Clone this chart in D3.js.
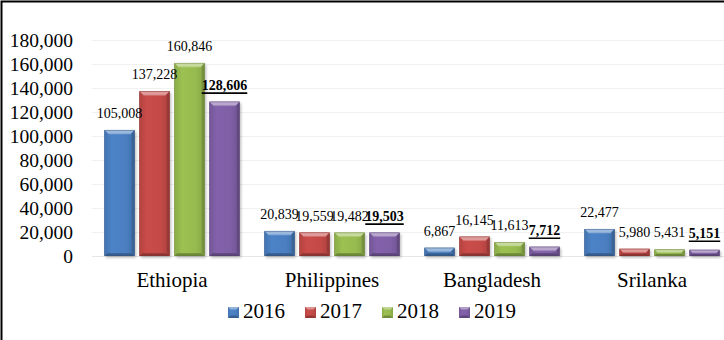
<!DOCTYPE html>
<html>
<head>
<meta charset="utf-8">
<script src="https://cdn.jsdelivr.net/npm/d3@7"></script>
<style>
  html, body { margin: 0; padding: 0; background: #fff; }
  svg { display: block; }
  text { font-family: "Liberation Serif", "Times New Roman", serif; fill: #000; }
</style>
</head>
<body>
<svg id="chart" width="724" height="340"></svg>
<script>
// Remittance counts by country and year
const countries = ["Ethiopia", "Philippines", "Bangladesh", "Srilanka"];
const years = ["2016", "2017", "2018", "2019"];
const values2016 = [105008, 20839, 6867, 22477];
const values2017 = [137228, 19559, 16145, 5980];
const values2018 = [160846, 19482, 11613, 5431];
const values2019 = [128606, 19503, 7712, 5151];
const yTicks = [0, 20000, 40000, 60000, 80000, 100000, 120000, 140000, 160000, 180000];
const seriesColors = ["#4a7fc1", "#c44a47", "#98bb4f", "#7f5fa6"];
const boldYear = "2019";

const seriesValues = [values2016, values2017, values2018, values2019];
const rows = [];
countries.forEach((c, ci) => {
  years.forEach((yr, si) => rows.push({ country: c, year: yr, series: si, value: seriesValues[si][ci] }));
});

const svg = d3.select("#chart");
const W = 724, H = 340;
const plot = { left: 92, right: 732, top: 40, bottom: 256 };

const x = d3.scaleBand().domain(countries).range([plot.left, plot.right]);
const xInner = d3.scaleBand().domain(years).range([12.5, x.bandwidth() - 12.5]).paddingInner(1 / 7);
const y = d3.scaleLinear().domain([0, 180000]).range([plot.bottom, plot.top]);
const fmt = d3.format(",");

// frame
svg.append("rect").attr("x", 1.5).attr("y", 1.5).attr("width", W + 10).attr("height", H + 10)
  .attr("fill", "none").attr("stroke", "#000").attr("stroke-width", 2);

// defs: gradients per series + shadow blur
const defs = svg.append("defs");
defs.append("filter").attr("id", "shadow").attr("x", "-20%").attr("y", "-20%").attr("width", "140%").attr("height", "140%")
  .append("feGaussianBlur").attr("stdDeviation", 1.4);
seriesColors.forEach((col, i) => {
  const g = defs.append("linearGradient").attr("id", "body" + i).attr("x1", 0).attr("x2", 1).attr("y1", 0).attr("y2", 0);
  const c = d3.color(col);
  g.append("stop").attr("offset", "0%").attr("stop-color", c.darker(0.25));
  g.append("stop").attr("offset", "25%").attr("stop-color", c.brighter(0.08));
  g.append("stop").attr("offset", "70%").attr("stop-color", c);
  g.append("stop").attr("offset", "100%").attr("stop-color", c.darker(0.35));
});

// gridlines
svg.append("g").selectAll("line").data(yTicks.slice(1)).join("line")
  .attr("x1", plot.left).attr("x2", plot.right)
  .attr("y1", d => Math.round(y(d)) + 0.5).attr("y2", d => Math.round(y(d)) + 0.5)
  .attr("stroke", "#f1f1f1").attr("stroke-width", 1);
svg.append("line").attr("x1", plot.left).attr("x2", plot.right)
  .attr("y1", plot.bottom + 0.5).attr("y2", plot.bottom + 0.5)
  .attr("stroke", "#e6e6e6");

// y axis labels
const yAxis = d3.axisLeft(y).tickValues(yTicks).tickFormat(fmt).tickSize(0).tickPadding(0);
const yG = svg.append("g").attr("transform", "translate(73,0)").call(yAxis);
yG.select(".domain").remove();
yG.selectAll("text").attr("font-size", "19.5px").attr("font-family", '"Liberation Serif", "Times New Roman", serif')
  .attr("fill", "#000");

// x axis labels
const xAxis = d3.axisBottom(x).tickSize(0).tickPadding(0);
const xG = svg.append("g").attr("transform", "translate(0,272)").call(xAxis);
xG.select(".domain").remove();
xG.selectAll("text").attr("font-size", "21px").attr("font-family", '"Liberation Serif", "Times New Roman", serif')
  .attr("fill", "#000").attr("dy", "0.71em");

// bars with a bevelled look
function drawBar(sel, bx, by, bw, bh, si) {
  const col = d3.color(seriesColors[si]);
  const b = Math.min(4, bh / 2);
  sel.append("rect").attr("x", bx + 1.5).attr("y", by + 1.5).attr("width", bw).attr("height", bh)
    .attr("fill", "#000").attr("opacity", 0.28).attr("filter", "url(#shadow)");
  sel.append("rect").attr("x", bx).attr("y", by).attr("width", bw).attr("height", bh)
    .attr("fill", `url(#body${si})`);
  const pts = a => a.map(p => p.join(",")).join(" ");
  // left edge
  sel.append("polygon").attr("points", pts([[bx, by], [bx + b * 0.7, by + b], [bx + b * 0.7, by + bh - b], [bx, by + bh]]))
    .attr("fill", col.darker(0.15));
  // right edge
  sel.append("polygon").attr("points", pts([[bx + bw, by], [bx + bw - b * 0.7, by + b], [bx + bw - b * 0.7, by + bh - b], [bx + bw, by + bh]]))
    .attr("fill", col.darker(0.7));
  // bottom edge
  sel.append("polygon").attr("points", pts([[bx, by + bh], [bx + b * 0.7, by + bh - b * 0.7], [bx + bw - b * 0.7, by + bh - b * 0.7], [bx + bw, by + bh]]))
    .attr("fill", col.darker(0.9));
  // top edge (light)
  const topCol = d3.interpolateRgb(col, "#ffffff")(0.45);
  sel.append("polygon").attr("points", pts([[bx, by], [bx + bw, by], [bx + bw - b, by + b], [bx + b, by + b]]))
    .attr("fill", topCol);
  sel.append("line").attr("x1", bx + b).attr("x2", bx + bw - b).attr("y1", by + b).attr("y2", by + b)
    .attr("stroke", d3.interpolateRgb(col, "#ffffff")(0.2)).attr("stroke-width", 0.8);
  sel.append("rect").attr("x", bx + 0.25).attr("y", by + 0.25).attr("width", bw - 0.5).attr("height", bh - 0.5)
    .attr("fill", "none").attr("stroke", col.darker(1.2)).attr("stroke-width", 0.6).attr("opacity", 0.7);
}

const barsG = svg.append("g");
rows.forEach(d => {
  const bx = x(d.country) + xInner(d.year);
  const by = y(d.value);
  const bh = y(0) - by;
  drawBar(barsG.append("g"), bx, by, xInner.bandwidth(), bh, d.series);
});

// value labels
const labG = svg.append("g");
rows.forEach(d => {
  const cx = x(d.country) + xInner(d.year) + xInner.bandwidth() / 2;
  const ty = y(d.value) - 12;
  const bold = d.year === boldYear;
  const t = labG.append("text").attr("x", cx).attr("y", ty).attr("text-anchor", "middle")
    .attr("font-size", "14px").attr("font-weight", bold ? "bold" : "normal").text(fmt(d.value));
  if (bold) {
    const w = t.node().getComputedTextLength();
    labG.append("line").attr("x1", cx - w / 2).attr("x2", cx + w / 2)
      .attr("y1", ty + 3.5).attr("y2", ty + 3.5).attr("stroke", "#000").attr("stroke-width", 1.6);
  }
});

// legend
const legend = svg.append("g").attr("transform", "translate(228,307)");
const item = legend.selectAll("g").data(years).join("g").attr("transform", (d, i) => `translate(${i * 77},0)`);
item.each(function (d, i) {
  const g = d3.select(this);
  const col = d3.color(seriesColors[i]);
  g.append("rect").attr("x", 0).attr("y", 0).attr("width", 11).attr("height", 11).attr("fill", `url(#body${i})`);
  g.append("polygon").attr("points", "0,0 11,0 8.5,2.5 2.5,2.5").attr("fill", d3.interpolateRgb(col, "#fff")(0.4));
  g.append("polygon").attr("points", "0,11 11,11 8.5,8.5 2.5,8.5").attr("fill", col.darker(0.8));
});
item.append("text").attr("x", 15).attr("y", 11).attr("font-size", "21px").text(d => d);
</script>
</body>
</html>
